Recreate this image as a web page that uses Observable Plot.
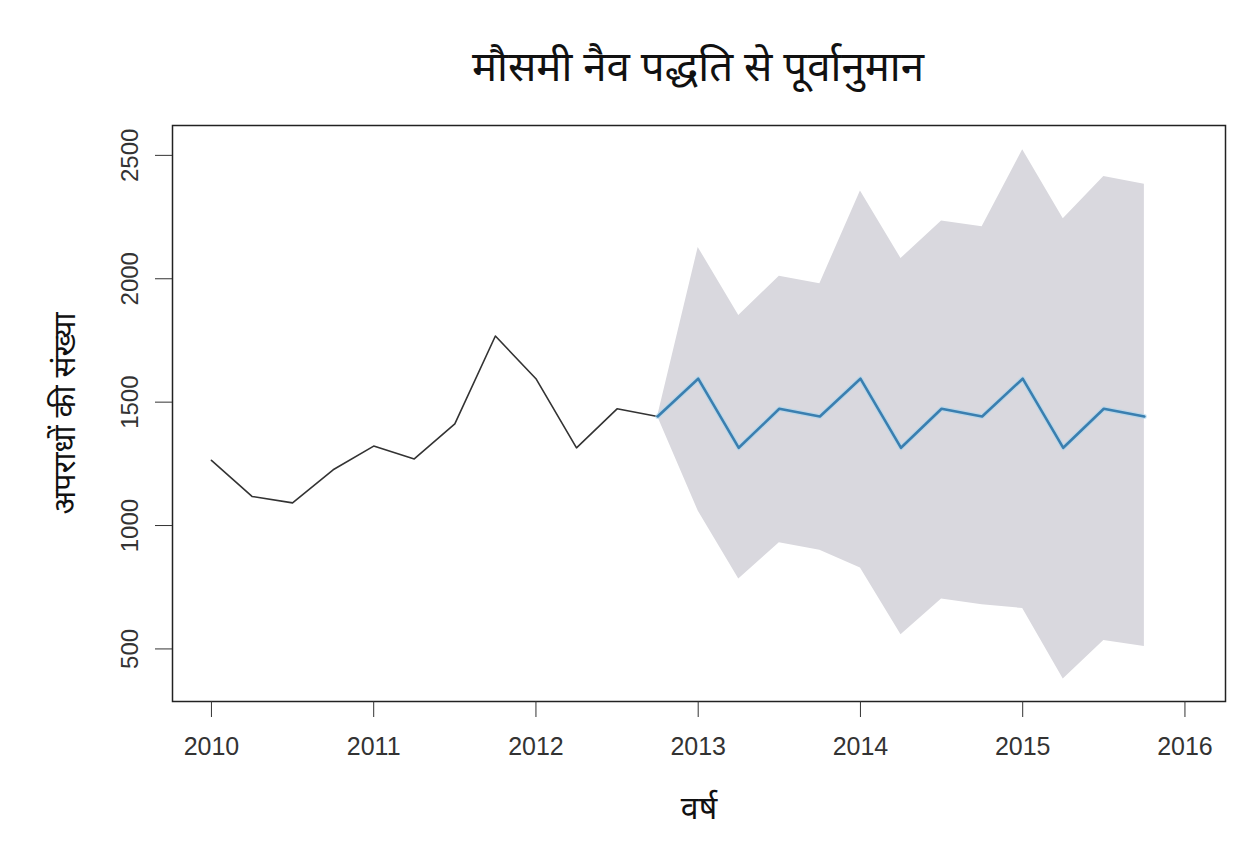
<!DOCTYPE html>
<html>
<head>
<meta charset="utf-8">
<script src="https://cdn.jsdelivr.net/npm/d3@7"></script>
<script src="https://cdn.jsdelivr.net/npm/@observablehq/plot@0.6"></script>
<style>
  html, body { margin: 0; padding: 0; background: #fff; }
  #wrap { width: 1260px; height: 848px; position: relative; overflow: hidden; }
  #title { height: 110px; box-sizing: border-box; padding-top: 40px; padding-left: 136px;
           text-align: center; font-family: "Noto Sans", sans-serif; font-size: 42px; line-height: 50px; color: #111; }
  svg { display: block; }
</style>
</head>
<body>
<div id="wrap">
  <div id="title">मौसमी नैव पद्धति से पूर्वानुमान</div>
  <div id="chart"></div>
</div>
<script>
// Historical quarterly observations
const histX = [2010, 2010.25, 2010.5, 2010.75, 2011, 2011.25, 2011.5, 2011.75, 2012, 2012.25, 2012.5, 2012.75];
const histY = [1264, 1118, 1092, 1226, 1322, 1270, 1412, 1768, 1595, 1315, 1473, 1442];

// Seasonal naive forecast (starting at last observation)
const fcX = [2012.75, 2013, 2013.25, 2013.5, 2013.75, 2014, 2014.25, 2014.5, 2014.75, 2015, 2015.25, 2015.5, 2015.75];
const fcY = [1442, 1595, 1315, 1473, 1442, 1595, 1315, 1473, 1442, 1595, 1315, 1473, 1442];
const fcUpper = [1442, 2127, 1851, 2010, 1980, 2356, 2082, 2234, 2211, 2523, 2243, 2414, 2383];
const fcLower = [1442, 1059, 783, 930, 900, 828, 557, 702, 679, 664, 378, 534, 510];

// Tick labels
const xTicks = [2010, 2011, 2012, 2013, 2014, 2015, 2016];
const yTicks = [500, 1000, 1500, 2000, 2500];

const titleText = "मौसमी नैव पद्धति से पूर्वानुमान";
const xLabel = "वर्ष";
const yLabel = "अपराधों की संख्या";

const hist = histX.map((x, i) => ({x, y: histY[i]}));
const fc = fcX.map((x, i) => ({x, y: fcY[i], lo: fcLower[i], hi: fcUpper[i]}));

const devFont = "'Noto Sans', sans-serif";

const plot = Plot.plot({
  width: 1260,
  height: 738,
  marginTop: 15,
  marginBottom: 147,
  marginLeft: 172,
  marginRight: 35,
  style: { fontFamily: "'Liberation Sans', Arial, sans-serif", background: "#fff" },
  x: { domain: [2009.76, 2016.25] },
  y: { domain: [287, 2621] },
  marks: [
    Plot.areaY(fc, { x: "x", y1: "lo", y2: "hi", fill: "#d9d8de" }),
    Plot.line(hist, { x: "x", y: "y", stroke: "#333", strokeWidth: 1.6 }),
    Plot.line(fc, { x: "x", y: "y", stroke: "#a9d6ef", strokeWidth: 5, strokeOpacity: 0.6 }),
    Plot.line(fc, { x: "x", y: "y", stroke: "#3a7fb0", strokeWidth: 2.6 }),
    Plot.frame({ stroke: "#222", strokeWidth: 1.5 }),
    Plot.axisX({ ticks: xTicks, tickFormat: d => String(d), tickSize: 16, tickPadding: 20, fontSize: 25, color: "#333", label: null }),
    Plot.axisY({ ticks: yTicks, tickFormat: d => String(d), tickSize: 17, tickPadding: 18, tickRotate: -90, fontSize: 24, color: "#333", label: null }),
    Plot.text([xLabel], { frameAnchor: "bottom", dy: 107, lineAnchor: "middle", textAnchor: "middle", text: d => d, fontSize: 32, fill: "#111", fontFamily: devFont }),
    Plot.text([yLabel], { frameAnchor: "left", dx: -107, rotate: -90, lineAnchor: "middle", textAnchor: "middle", text: d => d, fontSize: 31, fill: "#111", fontFamily: devFont })
  ]
});
document.getElementById("chart").appendChild(plot);
</script>
</body>
</html>
